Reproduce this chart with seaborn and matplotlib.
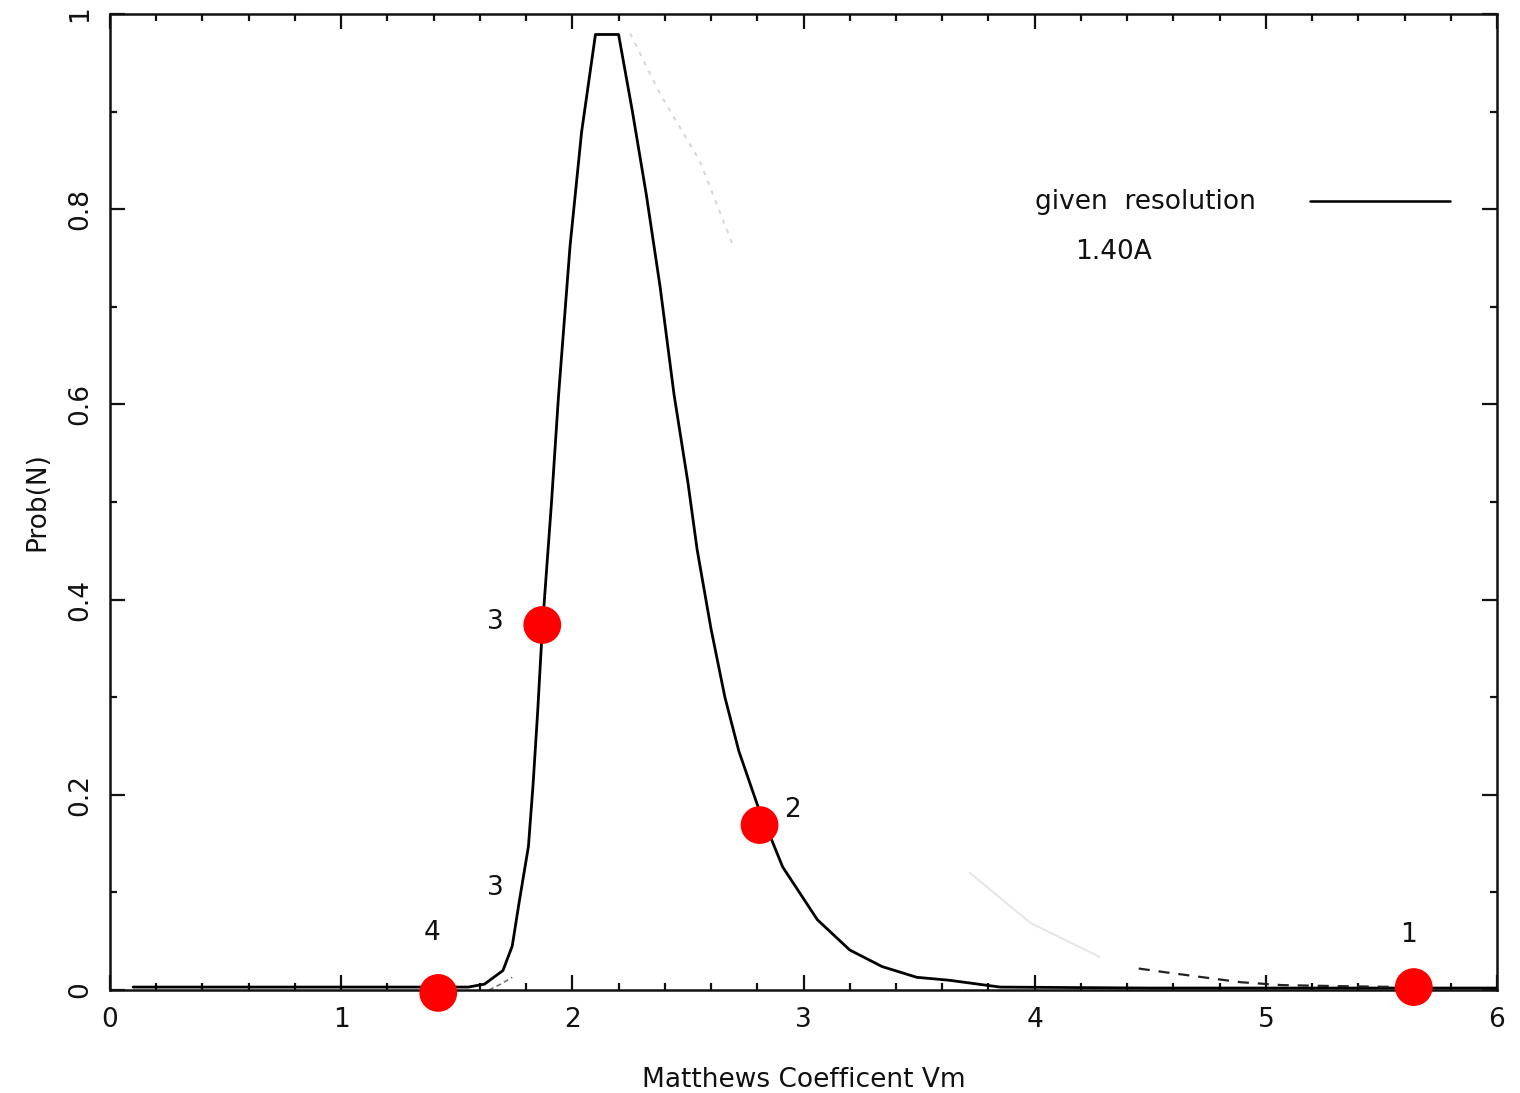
import matplotlib
matplotlib.use("Agg")
import matplotlib.pyplot as plt
import seaborn as sns
import pandas as pd
from matplotlib.ticker import MultipleLocator

# ---- data ----
vm = [0.10, 0.50, 1.00, 1.40, 1.55, 1.62, 1.70, 1.74, 1.77, 1.81, 1.83, 1.85,
      1.87, 1.91, 1.94, 1.99, 2.04, 2.10, 2.20, 2.26, 2.32, 2.38, 2.44, 2.50,
      2.54, 2.60, 2.66, 2.72, 2.80, 2.91, 3.06, 3.20, 3.34, 3.49, 3.63, 3.85,
      4.50, 5.00, 5.50, 6.00]
prob = [0.003, 0.003, 0.003, 0.003, 0.003, 0.006, 0.020, 0.045, 0.090, 0.147,
        0.210, 0.285, 0.370, 0.500, 0.608, 0.762, 0.879, 0.979, 0.979, 0.900,
        0.815, 0.720, 0.610, 0.520, 0.451, 0.370, 0.300, 0.245, 0.190, 0.126,
        0.072, 0.041, 0.024, 0.013, 0.010, 0.003, 0.002, 0.002, 0.002, 0.002]

faint_top_x = [2.25, 2.38, 2.55, 2.70]
faint_top_y = [0.980, 0.918, 0.850, 0.760]
faint_tail_x = [3.72, 3.98, 4.28]
faint_tail_y = [0.120, 0.069, 0.034]
dashed_x = [4.45, 4.57, 4.89, 5.07, 5.30, 5.60]
dashed_y = [0.022, 0.018, 0.008, 0.005, 0.004, 0.003]
small_x = [1.64, 1.69, 1.74]
small_y = [0.000, 0.006, 0.013]

dots_x = [1.42, 1.87, 2.81, 5.64]
dots_y = [-0.003, 0.374, 0.169, 0.003]
dots_lab = ["4", "3", "2", "1"]

extra_lab = "3"
extra_lab_x = 1.665
extra_lab_y = 0.104

xticks = [0, 1, 2, 3, 4, 5, 6]
yticks = [0, 0.2, 0.4, 0.6, 0.8, 1]
ytick_labels = ["0", "0.2", "0.4", "0.6", "0.8", "1"]

# ---- style ----
sns.set_style("ticks")
plt.rcParams["font.family"] = ["DejaVu Sans"]

fig = plt.figure(figsize=(15.2, 10.93), dpi=100)
ax = fig.add_axes([110 / 1520, 1 - 990 / 1093, 1387 / 1520, 976 / 1093])

main = pd.DataFrame({"vm": vm, "prob": prob})
sns.lineplot(data=main, x="vm", y="prob", ax=ax, color="black", lw=2.0,
             sort=False, estimator=None)

ax.plot(faint_top_x, faint_top_y, color="#d8d8d8", lw=1.5, ls=(0, (2, 3)))
ax.plot(faint_tail_x, faint_tail_y, color="#e6e6e6", lw=1.5)
ax.plot(dashed_x, dashed_y, color="#222222", lw=1.6, ls=(0, (5, 4)))
ax.plot(small_x, small_y, color="#777777", lw=1.2, ls=(0, (3, 2)))

dots = pd.DataFrame({"x": dots_x, "y": dots_y})
sns.scatterplot(data=dots, x="x", y="y", ax=ax, color="#ff0000", s=740,
                edgecolor="none", zorder=5, clip_on=False)

offsets = {"4": (-6, 60), "3": (-47, 3), "2": (33, 15), "1": (-5, 52)}
for lx, ly, lab in zip(dots_x, dots_y, dots_lab):
    ax.annotate(lab, (lx, ly), xytext=offsets[lab], textcoords="offset pixels",
                ha="center", va="center", fontsize=19, color="#111111",
                annotation_clip=False)
ax.text(extra_lab_x, extra_lab_y, extra_lab, ha="center", va="center",
        fontsize=19, color="#111111")

# legend-like annotation
ax.text(0.667, 0.807, "given  resolution", transform=ax.transAxes,
        ha="left", va="center", fontsize=19, color="#111111")
ax.plot([0.865, 0.966], [0.808, 0.808], transform=ax.transAxes,
        color="black", lw=1.8)
ax.text(0.696, 0.756, "1.40A", transform=ax.transAxes,
        ha="left", va="center", fontsize=19, color="#111111")

ax.set_xlim(0, 6)
ax.set_ylim(0, 1)
ax.set_xticks(xticks)
ax.set_xticklabels([str(t) for t in xticks])
ax.set_yticks(yticks)
ax.set_yticklabels(ytick_labels, rotation=90, va="center")
ax.xaxis.set_minor_locator(MultipleLocator(0.2))
ax.yaxis.set_minor_locator(MultipleLocator(0.1))
ax.tick_params(which="both", direction="in", top=True, right=True,
               width=1.6, colors="#111111", labelsize=19)
ax.tick_params(which="major", length=11, pad=12)
ax.tick_params(which="minor", length=5)
for sp in ax.spines.values():
    sp.set_linewidth(1.8)
    sp.set_color("#111111")

ax.set_xlabel("Matthews Coefficent Vm", fontsize=19, labelpad=25, color="#111111")
ax.set_ylabel("Prob(N)", fontsize=19, labelpad=12, color="#111111")

fig.savefig("out.png", dpi=100)
